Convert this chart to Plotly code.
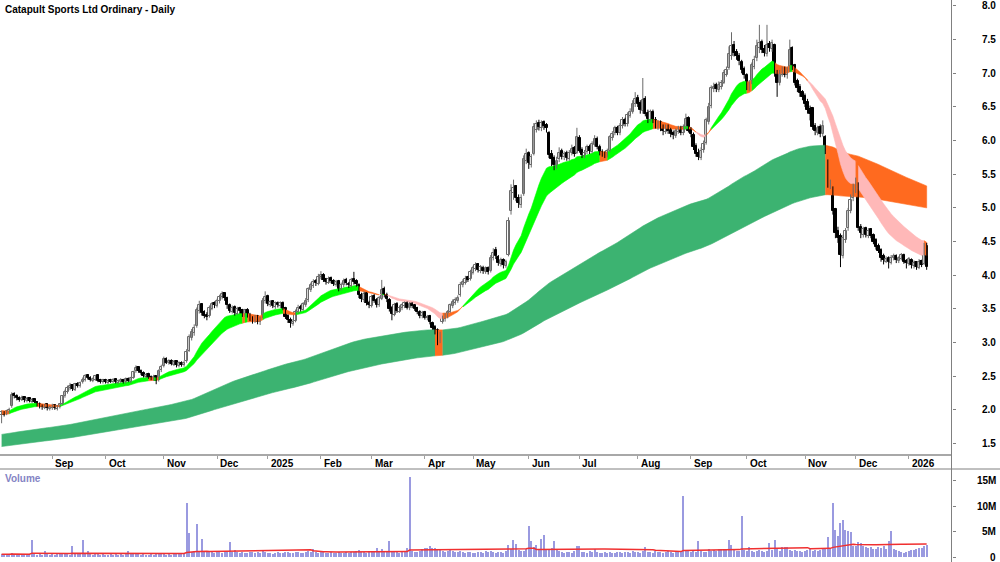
import pandas as pd
import plotly.graph_objects as go

TITLE = "Catapult Sports Ltd Ordinary - Daily"
START_DATE = "2024-08-05"
END_DATE = "2026-01-13"
HOLIDAYS = ["2024-12-25", "2024-12-26", "2025-01-01", "2025-01-27", "2025-04-18",
            "2025-04-21", "2025-04-25", "2025-06-09", "2025-12-25", "2025-12-26", "2026-01-01"]

OPEN = [
    1.92, 1.96, 1.94, 1.97, 2.05, 2.23, 2.21, 2.18, 2.15, 2.19,
    2.13, 2.17, 2.12, 2.16, 2.12, 2.09, 2.06, 2.03, 2.08, 2.01,
    2.03, 2.07, 2.01, 2.04, 2.09, 2.21, 2.27, 2.32, 2.37, 2.30,
    2.39, 2.35, 2.41, 2.44, 2.51, 2.48, 2.43, 2.45, 2.51, 2.44,
    2.41, 2.45, 2.40, 2.44, 2.42, 2.46, 2.40, 2.42, 2.45, 2.41,
    2.46, 2.42, 2.48, 2.57, 2.63, 2.58, 2.55, 2.49, 2.53, 2.49,
    2.45, 2.50, 2.44, 2.59, 2.65, 2.76, 2.69, 2.73, 2.67, 2.72,
    2.65, 2.70, 2.66, 2.72, 2.88, 3.06, 3.14, 3.25, 3.47, 3.57,
    3.45, 3.41, 3.39, 3.50, 3.58, 3.54, 3.61, 3.67, 3.74, 3.66,
    3.56, 3.46, 3.53, 3.43, 3.51, 3.48, 3.41, 3.49, 3.41, 3.37,
    3.32, 3.39, 3.30, 3.38, 3.61, 3.69, 3.56, 3.61, 3.53, 3.59,
    3.54, 3.59, 3.51, 3.39, 3.34, 3.28, 3.32, 3.45, 3.53, 3.49,
    3.56, 3.63, 3.78, 3.84, 3.91, 3.87, 3.97, 4.01, 3.94, 3.89,
    3.96, 3.92, 3.86, 3.91, 3.79, 3.85, 3.93, 3.87, 3.84, 3.94,
    3.91, 3.86, 3.71, 3.63, 3.73, 3.59, 3.54, 3.69, 3.63, 3.55,
    3.65, 3.80, 3.71, 3.63, 3.51, 3.41, 3.57, 3.46, 3.51, 3.54,
    3.59, 3.51, 3.58, 3.55, 3.51, 3.46, 3.39, 3.45, 3.36, 3.39,
    3.29, 3.23, 3.19, 3.01, 3.30, 3.35, 3.39, 3.46, 3.54, 3.59,
    3.62, 3.70, 3.85, 3.89, 3.97, 3.94, 4.04, 4.09, 4.16, 4.06,
    4.11, 4.05, 4.11, 4.06, 4.26, 4.37, 4.27, 4.17, 4.23, 4.14,
    4.30, 4.95, 5.22, 5.32, 5.14, 5.04, 5.20, 5.70, 5.82, 5.64,
    5.80, 6.16, 6.26, 6.18, 6.27, 6.23, 6.12, 5.80, 5.74, 5.62,
    5.72, 5.84, 5.75, 5.82, 5.73, 5.81, 5.89, 5.82, 6.04, 5.86,
    5.77, 5.83, 5.91, 5.83, 5.94, 6.03, 5.91, 5.83, 5.81, 5.77,
    5.85, 6.04, 6.11, 6.19, 6.11, 6.21, 6.31, 6.24, 6.37, 6.43,
    6.54, 6.63, 6.56, 6.44, 6.62, 6.41, 6.31, 6.43, 6.31, 6.21,
    6.27, 6.19, 6.13, 6.21, 6.16, 6.11, 6.07, 6.13, 6.19, 6.11,
    6.19, 6.33, 6.16, 6.08, 5.92, 5.82, 5.74, 5.86, 5.96, 6.28,
    6.52, 6.76, 6.82, 6.75, 6.80, 6.86, 6.98, 7.08, 7.25, 7.42,
    7.31, 7.26, 7.17, 7.06, 6.97, 6.80, 6.88, 7.10, 7.22, 7.38,
    7.46, 7.36, 7.28, 7.44, 7.36, 7.42, 7.02, 6.86, 6.98, 7.06,
    6.97, 7.06, 7.38, 7.12, 6.88, 6.80, 6.72, 6.66, 6.58, 6.47,
    6.48, 6.22, 6.12, 6.20, 6.10, 6.05, 5.70, 5.32, 5.30, 4.98,
    4.65, 4.58, 4.28, 4.52, 4.70, 4.96, 5.14, 5.28, 5.34, 4.72,
    4.60, 4.70, 4.58, 4.68, 4.60, 4.52, 4.44, 4.38, 4.28, 4.20,
    4.25, 4.18, 4.25, 4.29, 4.21, 4.24, 4.30, 4.21, 4.17, 4.23,
    4.14, 4.19, 4.11, 4.21, 4.16, 4.44,
]
HIGH = [
    1.99, 1.98, 2.00, 2.03, 2.26, 2.26, 2.23, 2.20, 2.21, 2.20,
    2.19, 2.18, 2.17, 2.17, 2.13, 2.11, 2.08, 2.09, 2.09, 2.06,
    2.09, 2.08, 2.07, 2.10, 2.22, 2.30, 2.36, 2.40, 2.38, 2.40,
    2.41, 2.42, 2.48, 2.53, 2.53, 2.50, 2.48, 2.52, 2.52, 2.46,
    2.46, 2.46, 2.45, 2.46, 2.47, 2.47, 2.45, 2.47, 2.46, 2.48,
    2.48, 2.49, 2.58, 2.66, 2.64, 2.60, 2.57, 2.54, 2.55, 2.51,
    2.52, 2.51, 2.60, 2.67, 2.79, 2.78, 2.75, 2.75, 2.74, 2.74,
    2.72, 2.72, 2.73, 2.90, 3.12, 3.20, 3.27, 3.52, 3.62, 3.58,
    3.48, 3.45, 3.55, 3.60, 3.61, 3.65, 3.71, 3.76, 3.75, 3.68,
    3.58, 3.55, 3.55, 3.53, 3.53, 3.50, 3.50, 3.51, 3.44, 3.39,
    3.41, 3.41, 3.38, 3.66, 3.76, 3.71, 3.63, 3.63, 3.61, 3.61,
    3.61, 3.61, 3.53, 3.42, 3.37, 3.35, 3.49, 3.56, 3.56, 3.60,
    3.66, 3.82, 3.89, 3.94, 3.94, 4.02, 4.06, 4.03, 3.96, 3.98,
    3.98, 3.94, 3.93, 3.93, 3.89, 3.95, 3.96, 3.90, 3.96, 4.05,
    3.94, 3.88, 3.74, 3.76, 3.75, 3.62, 3.71, 3.72, 3.66, 3.69,
    3.93, 3.83, 3.74, 3.66, 3.54, 3.59, 3.60, 3.55, 3.58, 3.61,
    3.61, 3.60, 3.60, 3.57, 3.53, 3.48, 3.47, 3.47, 3.41, 3.41,
    3.31, 3.26, 3.21, 3.16, 3.40, 3.44, 3.48, 3.58, 3.64, 3.67,
    3.70, 3.90, 3.94, 3.99, 3.99, 4.08, 4.14, 4.19, 4.18, 4.15,
    4.14, 4.13, 4.13, 4.30, 4.40, 4.42, 4.30, 4.26, 4.25, 4.23,
    4.86, 5.35, 5.42, 5.34, 5.20, 5.20, 5.78, 5.88, 5.84, 5.80,
    6.26, 6.30, 6.31, 6.30, 6.30, 6.26, 6.14, 5.86, 5.78, 5.76,
    5.90, 5.88, 5.84, 5.85, 5.86, 5.94, 5.92, 6.19, 6.08, 5.90,
    5.86, 5.94, 5.94, 5.99, 6.08, 6.06, 5.94, 5.87, 5.84, 5.88,
    6.08, 6.14, 6.22, 6.22, 6.26, 6.35, 6.34, 6.42, 6.48, 6.60,
    6.72, 6.68, 6.60, 6.93, 6.66, 6.46, 6.46, 6.46, 6.35, 6.30,
    6.30, 6.24, 6.24, 6.24, 6.19, 6.15, 6.18, 6.22, 6.22, 6.24,
    6.40, 6.36, 6.20, 6.12, 5.96, 5.88, 5.90, 6.00, 6.34, 6.56,
    6.82, 6.86, 6.86, 6.88, 6.90, 7.05, 7.10, 7.40, 7.61, 7.48,
    7.36, 7.30, 7.20, 7.10, 7.00, 6.90, 7.16, 7.26, 7.50, 7.72,
    7.50, 7.42, 7.72, 7.48, 7.50, 7.44, 7.05, 7.05, 7.10, 7.10,
    7.10, 7.50, 7.40, 7.14, 6.92, 6.84, 6.75, 6.70, 6.62, 6.52,
    6.50, 6.26, 6.22, 6.24, 6.30, 6.08, 5.72, 5.42, 5.32, 5.00,
    4.72, 4.62, 4.60, 4.70, 5.00, 5.20, 5.36, 5.45, 5.38, 4.76,
    4.72, 4.72, 4.70, 4.70, 4.62, 4.55, 4.47, 4.40, 4.32, 4.28,
    4.28, 4.30, 4.32, 4.31, 4.28, 4.33, 4.32, 4.24, 4.27, 4.25,
    4.22, 4.21, 4.24, 4.23, 4.48, 4.48,
]
LOW = [
    1.80, 1.90, 1.92, 1.95, 2.03, 2.17, 2.14, 2.12, 2.13, 2.11,
    2.11, 2.11, 2.10, 2.10, 2.05, 2.02, 2.00, 2.01, 1.99, 1.99,
    2.00, 2.00, 1.99, 2.02, 2.07, 2.18, 2.24, 2.29, 2.28, 2.28,
    2.33, 2.33, 2.39, 2.42, 2.45, 2.42, 2.41, 2.43, 2.41, 2.39,
    2.39, 2.39, 2.38, 2.40, 2.40, 2.39, 2.38, 2.40, 2.39, 2.39,
    2.41, 2.40, 2.46, 2.55, 2.55, 2.52, 2.48, 2.47, 2.46, 2.44,
    2.43, 2.38, 2.42, 2.56, 2.63, 2.68, 2.67, 2.66, 2.65, 2.63,
    2.63, 2.64, 2.64, 2.70, 2.86, 3.03, 3.10, 3.22, 3.43, 3.40,
    3.36, 3.33, 3.37, 3.48, 3.51, 3.52, 3.58, 3.64, 3.62, 3.50,
    3.44, 3.43, 3.40, 3.41, 3.43, 3.38, 3.38, 3.37, 3.32, 3.28,
    3.29, 3.27, 3.26, 3.36, 3.58, 3.54, 3.53, 3.51, 3.50, 3.52,
    3.51, 3.48, 3.35, 3.29, 3.22, 3.25, 3.30, 3.43, 3.46, 3.47,
    3.53, 3.60, 3.75, 3.81, 3.84, 3.85, 3.94, 3.90, 3.86, 3.87,
    3.88, 3.84, 3.83, 3.76, 3.77, 3.82, 3.85, 3.81, 3.82, 3.86,
    3.83, 3.66, 3.60, 3.60, 3.55, 3.51, 3.52, 3.59, 3.52, 3.53,
    3.63, 3.67, 3.60, 3.46, 3.33, 3.39, 3.44, 3.44, 3.48, 3.51,
    3.49, 3.48, 3.51, 3.47, 3.42, 3.36, 3.36, 3.34, 3.33, 3.27,
    3.19, 3.12, 2.96, 2.99, 3.28, 3.31, 3.36, 3.44, 3.51, 3.56,
    3.59, 3.68, 3.82, 3.86, 3.90, 3.92, 4.01, 4.06, 4.04, 4.03,
    4.02, 4.02, 4.01, 4.04, 4.22, 4.24, 4.14, 4.13, 4.10, 4.11,
    4.28, 4.90, 5.12, 5.10, 5.00, 5.00, 5.18, 5.65, 5.58, 5.60,
    5.78, 6.12, 6.15, 6.14, 6.16, 6.12, 5.74, 5.62, 5.56, 5.58,
    5.68, 5.72, 5.71, 5.70, 5.70, 5.78, 5.76, 5.80, 5.82, 5.74,
    5.74, 5.80, 5.80, 5.81, 5.91, 5.87, 5.78, 5.76, 5.74, 5.75,
    5.83, 6.00, 6.08, 6.08, 6.08, 6.18, 6.21, 6.21, 6.34, 6.40,
    6.50, 6.50, 6.40, 6.40, 6.36, 6.26, 6.28, 6.26, 6.18, 6.16,
    6.14, 6.08, 6.10, 6.10, 6.05, 6.02, 6.04, 6.10, 6.08, 6.08,
    6.16, 6.12, 6.05, 5.86, 5.76, 5.71, 5.71, 5.82, 5.94, 6.24,
    6.48, 6.72, 6.72, 6.72, 6.76, 6.84, 6.95, 7.05, 7.20, 7.25,
    7.20, 7.12, 7.00, 6.92, 6.75, 6.74, 6.84, 7.06, 7.18, 7.30,
    7.30, 7.25, 7.25, 7.32, 7.32, 6.95, 6.65, 6.82, 6.95, 6.94,
    6.92, 7.02, 7.05, 6.82, 6.72, 6.65, 6.60, 6.50, 6.40, 6.30,
    6.16, 6.08, 6.08, 6.05, 6.06, 5.80, 5.30, 5.28, 4.90, 4.55,
    4.48, 4.12, 4.25, 4.48, 4.66, 4.92, 5.10, 5.22, 4.66, 4.55,
    4.56, 4.56, 4.55, 4.55, 4.46, 4.38, 4.33, 4.20, 4.16, 4.18,
    4.10, 4.16, 4.22, 4.18, 4.18, 4.22, 4.17, 4.10, 4.14, 4.10,
    4.10, 4.08, 4.09, 4.12, 4.15, 4.08,
]
CLOSE = [
    1.97, 1.93, 1.98, 2.00, 2.22, 2.20, 2.17, 2.15, 2.18, 2.14,
    2.16, 2.13, 2.15, 2.12, 2.08, 2.05, 2.04, 2.07, 2.02, 2.04,
    2.06, 2.02, 2.05, 2.08, 2.20, 2.27, 2.33, 2.36, 2.31, 2.38,
    2.36, 2.40, 2.45, 2.50, 2.47, 2.44, 2.46, 2.50, 2.43, 2.42,
    2.44, 2.41, 2.43, 2.42, 2.45, 2.41, 2.43, 2.44, 2.42, 2.46,
    2.43, 2.47, 2.56, 2.62, 2.57, 2.54, 2.50, 2.52, 2.48, 2.46,
    2.49, 2.43, 2.58, 2.64, 2.75, 2.70, 2.72, 2.68, 2.71, 2.66,
    2.69, 2.67, 2.70, 2.86, 3.08, 3.15, 3.22, 3.48, 3.56, 3.44,
    3.40, 3.38, 3.52, 3.57, 3.55, 3.62, 3.68, 3.72, 3.66, 3.55,
    3.47, 3.52, 3.44, 3.50, 3.47, 3.42, 3.48, 3.40, 3.36, 3.33,
    3.38, 3.31, 3.36, 3.62, 3.68, 3.57, 3.60, 3.54, 3.58, 3.55,
    3.58, 3.50, 3.38, 3.33, 3.29, 3.31, 3.46, 3.52, 3.50, 3.57,
    3.62, 3.79, 3.85, 3.90, 3.88, 3.98, 4.00, 3.93, 3.90, 3.95,
    3.91, 3.87, 3.90, 3.80, 3.86, 3.92, 3.88, 3.85, 3.93, 3.90,
    3.87, 3.70, 3.64, 3.72, 3.58, 3.55, 3.68, 3.62, 3.56, 3.66,
    3.78, 3.70, 3.64, 3.50, 3.42, 3.56, 3.47, 3.52, 3.55, 3.58,
    3.52, 3.57, 3.54, 3.50, 3.45, 3.40, 3.44, 3.37, 3.38, 3.30,
    3.22, 3.17, 3.02, 3.12, 3.36, 3.40, 3.45, 3.55, 3.60, 3.63,
    3.66, 3.86, 3.90, 3.95, 3.93, 4.05, 4.10, 4.15, 4.07, 4.12,
    4.06, 4.10, 4.05, 4.25, 4.33, 4.28, 4.18, 4.22, 4.15, 4.20,
    4.80, 5.25, 5.30, 5.15, 5.08, 5.15, 5.72, 5.80, 5.66, 5.75,
    6.20, 6.24, 6.20, 6.26, 6.22, 6.18, 5.78, 5.72, 5.64, 5.70,
    5.82, 5.76, 5.80, 5.74, 5.82, 5.88, 5.80, 6.05, 5.85, 5.78,
    5.82, 5.90, 5.84, 5.95, 6.02, 5.90, 5.82, 5.80, 5.78, 5.84,
    6.05, 6.10, 6.18, 6.12, 6.22, 6.30, 6.25, 6.38, 6.42, 6.55,
    6.62, 6.55, 6.45, 6.60, 6.40, 6.32, 6.42, 6.30, 6.22, 6.26,
    6.18, 6.14, 6.20, 6.15, 6.10, 6.08, 6.14, 6.18, 6.12, 6.20,
    6.32, 6.15, 6.10, 5.90, 5.80, 5.75, 5.85, 5.95, 6.30, 6.50,
    6.78, 6.80, 6.76, 6.82, 6.85, 7.00, 7.05, 7.28, 7.40, 7.30,
    7.25, 7.18, 7.05, 6.98, 6.82, 6.85, 7.12, 7.20, 7.40, 7.45,
    7.35, 7.30, 7.42, 7.38, 7.45, 7.00, 6.85, 7.00, 7.05, 6.98,
    7.05, 7.35, 7.10, 6.85, 6.78, 6.70, 6.65, 6.55, 6.45, 6.40,
    6.20, 6.15, 6.18, 6.10, 6.22, 5.85, 5.35, 5.38, 4.95, 4.62,
    4.55, 4.30, 4.55, 4.65, 4.95, 5.12, 5.30, 5.38, 4.70, 4.62,
    4.68, 4.60, 4.66, 4.58, 4.50, 4.42, 4.36, 4.25, 4.22, 4.24,
    4.20, 4.26, 4.28, 4.22, 4.25, 4.30, 4.20, 4.18, 4.24, 4.15,
    4.18, 4.12, 4.20, 4.15, 4.45, 4.12,
]
VOLUME_M = [
    0.6, 0.5, 0.7, 0.6, 0.9, 0.5, 0.6, 0.4, 0.5, 0.6,
    0.5, 0.7, 3.4, 0.6, 0.5, 0.6, 0.4, 1.3, 0.6, 0.5,
    0.7, 0.5, 0.6, 0.8, 0.9, 0.7, 0.6, 0.5, 2.3, 0.7,
    0.6, 0.8, 3.3, 0.7, 1.3, 0.6, 0.5, 0.6, 0.7, 0.5,
    0.6, 0.5, 0.4, 0.6, 0.5, 0.7, 0.5, 0.6, 0.5, 0.6,
    1.3, 0.6, 0.8, 0.9, 0.6, 0.5, 0.6, 0.5, 0.4, 0.6,
    0.5, 0.6, 0.7, 0.6, 0.8, 0.5, 0.6, 0.5, 0.7, 0.8,
    0.6, 0.9, 0.8, 10.6, 4.7, 1.0, 1.2, 6.5, 1.1, 3.5,
    1.3, 1.2, 1.0, 1.1, 0.9, 1.2, 1.0, 0.9, 1.1, 1.2,
    2.9, 1.1, 1.5, 1.0, 0.9, 1.0, 0.8, 0.9, 1.1, 1.0,
    0.9, 1.0, 0.8, 1.2, 1.0, 0.9, 0.8, 0.7, 0.9, 1.0,
    0.8, 0.9, 1.1, 1.0, 0.9, 0.8, 1.0, 1.1, 0.9, 0.8,
    1.0, 1.2, 1.1, 1.6, 1.0, 0.9, 1.1, 1.0, 0.8, 0.9,
    1.0, 0.9, 0.8, 1.0, 0.9, 0.8, 1.0, 0.9, 1.1, 1.0,
    1.2, 1.5, 1.0, 1.1, 0.9, 1.0, 1.2, 1.1, 1.9, 1.3,
    1.7, 1.2, 1.1, 3.1, 1.0, 1.3, 1.0, 0.9, 1.1, 1.2,
    1.9, 15.7, 1.2, 1.0, 1.1, 1.3, 1.7, 1.9, 1.8, 2.3,
    1.8, 1.9, 1.7, 1.4, 1.2, 1.1, 1.3, 1.7, 1.2, 1.0,
    1.1, 1.2, 1.0, 0.9, 1.1, 1.0, 0.8, 0.9, 1.1, 1.0,
    0.9, 1.2, 1.0, 1.3, 1.1, 0.9, 1.0, 1.1, 0.9, 1.2,
    2.4, 1.6, 3.3, 2.6, 1.5, 1.2, 1.3, 1.6, 6.1, 3.1,
    2.0, 2.5, 1.5, 3.5, 4.4, 1.6, 1.4, 1.8, 3.1, 1.5,
    1.2, 1.0, 0.9, 1.1, 1.0, 0.8, 1.2, 2.3, 2.3, 1.1,
    1.0, 0.9, 1.2, 1.1, 1.7, 1.0, 0.9, 0.8, 1.0, 0.9,
    1.0, 0.8, 0.9, 1.1, 1.0, 0.9, 1.1, 1.0, 0.8, 1.2,
    1.1, 1.0, 0.9, 1.2, 2.0, 1.1, 1.0, 0.9, 1.2, 1.0,
    1.1, 0.9, 1.0, 1.2, 1.1, 0.9, 1.0, 1.3, 1.1, 12.0,
    1.4, 1.2, 1.0, 1.3, 1.1, 3.1, 1.2, 1.0, 1.1, 1.7,
    1.2, 1.5, 1.3, 1.6, 1.7, 1.4, 1.5, 3.3, 2.5, 1.6,
    1.3, 1.2, 8.0, 1.4, 1.2, 2.0, 1.3, 1.1, 1.2, 1.4,
    1.3, 1.1, 1.2, 2.8, 1.4, 3.4, 1.6, 1.3, 2.1, 2.1,
    2.0, 1.5, 1.2, 1.4, 1.3, 1.2, 1.1, 1.3, 1.4, 1.8,
    1.2, 1.4, 1.3, 1.5, 1.6, 1.8, 3.9, 1.9, 10.7, 5.3,
    4.2, 6.8, 7.4, 5.3, 5.2, 5.0, 2.2, 2.2, 3.0, 2.8,
    2.3, 2.0, 1.8, 2.1, 1.7, 1.6, 2.0, 1.9, 2.2, 1.7,
    3.1, 5.2, 1.6, 1.4, 1.2, 1.0, 0.9, 1.1, 1.3, 1.4,
    1.5, 1.6, 1.8, 1.9, 2.2, 2.4,
]

SHORT_FAST_SPAN, SHORT_SLOW_SPAN = 18, 30
LONG_FAST_SPAN, LONG_SLOW_SPAN = 150, 250
SHORT_FAST_START, SHORT_SLOW_START = 1.99, 1.93
LONG_FAST_START, LONG_SLOW_START = 1.63, 1.45
VOLUME_MA_WINDOW = 50

PRICE_TICKS = [1.5, 2.0, 2.5, 3.0, 3.5, 4.0, 4.5, 5.0, 5.5, 6.0, 6.5, 7.0, 7.5, 8.0]
VOLUME_TICKS = [0, 5, 10, 15]
VOLUME_TICK_LABELS = ["0", "5M", "10M", "15M"]
MONTH_NAMES = ["Jan", "Feb", "Mar", "Apr", "May", "Jun", "Jul", "Aug", "Sep", "Oct", "Nov", "Dec"]

GREEN_LONG = "#3CB371"
GREEN_SHORT = "#00FF00"
ORANGE = "#FF6A1F"
PINK = "#FFB8B8"
UP_LINE = "#6A6A6A"
DOWN_LINE = "#000000"
FONT = "Liberation Sans, Arial, sans-serif"

# ---------------------------------------------------------------------------
dates = [d for d in pd.bdate_range(START_DATE, END_DATE) if d.strftime("%Y-%m-%d") not in HOLIDAYS]
n = len(CLOSE)
dates = dates[:n]
idx = list(range(n))


def ema(values, span, start):
    a = 2.0 / (span + 1)
    out, prev = [], start
    for v in values:
        prev = prev + a * (v - prev)
        out.append(prev)
    return out


def ribbon_colours(fast, slow, start, up, mixed, down):
    cols = []
    prev = start
    for f, s in zip(fast, slow):
        rising = f >= prev
        if f > s and rising:
            cols.append(up)
        elif f < s and not rising:
            cols.append(down)
        else:
            cols.append(mixed)
        prev = f
    return cols


def ribbon_traces(fast, slow, cols):
    traces = []
    a = 0
    while a < n:
        b = a
        while b + 1 < n and cols[b + 1] == cols[a]:
            b += 1
        end = min(b + 1, n - 1)
        xs = list(range(a, end + 1))
        up = [max(fast[i], slow[i]) for i in xs]
        lo = [min(fast[i], slow[i]) for i in xs]
        traces.append(go.Scatter(
            x=xs + xs[::-1], y=up + lo[::-1], fill="toself", fillcolor=cols[a],
            mode="lines", line=dict(width=0.6, color=cols[a]), hoverinfo="skip",
            showlegend=False, xaxis="x", yaxis="y"))
        a = b + 1
    return traces


sf = ema(CLOSE, SHORT_FAST_SPAN, SHORT_FAST_START)
ss = ema(CLOSE, SHORT_SLOW_SPAN, SHORT_SLOW_START)
lf = ema(CLOSE, LONG_FAST_SPAN, LONG_FAST_START)
ls = ema(CLOSE, LONG_SLOW_SPAN, LONG_SLOW_START)
vol_ma = pd.Series(VOLUME_M).rolling(VOLUME_MA_WINDOW, min_periods=1).mean().tolist()

fig = go.Figure()
for t in ribbon_traces(lf, ls, ribbon_colours(lf, ls, LONG_FAST_START, GREEN_LONG, ORANGE, ORANGE)):
    fig.add_trace(t)
for t in ribbon_traces(sf, ss, ribbon_colours(sf, ss, SHORT_FAST_START, GREEN_SHORT, ORANGE, PINK)):
    fig.add_trace(t)

# candles: wicks as line traces (up / down), bodies as bars based at the open
is_up = [c >= o for o, c in zip(OPEN, CLOSE)]
for want, colr in ((True, UP_LINE), (False, DOWN_LINE)):
    wx, wy = [], []
    for i in idx:
        if is_up[i] == want:
            wx += [i, i, None]
            wy += [LOW[i], HIGH[i], None]
    fig.add_trace(go.Scatter(x=wx, y=wy, mode="lines", line=dict(color=colr, width=1),
                             hoverinfo="skip", showlegend=False, xaxis="x", yaxis="y"))
body_h = [c - o if abs(c - o) > 0.004 else 0.008 for o, c in zip(OPEN, CLOSE)]
body_base = [o if abs(c - o) > 0.004 else o - 0.004 for o, c in zip(OPEN, CLOSE)]
body_col = ["#FFFFFF" if u else "#000000" for u in is_up]
body_line = [UP_LINE if u else DOWN_LINE for u in is_up]
fig.add_trace(go.Bar(x=idx, y=body_h, base=body_base, width=0.9,
                     marker=dict(color=body_col, line=dict(color=body_line, width=1)),
                     hoverinfo="skip", showlegend=False, xaxis="x", yaxis="y"))

fig.add_trace(go.Bar(x=idx, y=VOLUME_M, width=0.45, marker=dict(color="#9A9AE0", line=dict(width=0)),
                     showlegend=False, hoverinfo="skip", xaxis="x2", yaxis="y2"))
fig.add_trace(go.Scatter(x=idx, y=vol_ma, mode="lines", line=dict(color="#F03030", width=1.5),
                         showlegend=False, hoverinfo="skip", xaxis="x2", yaxis="y2"))

W, H = 1000, 562
AXIS_X = 951.5
PRICE_BOTTOM = 455
VOL_TOP = 469
x_dom = [0, AXIS_X / W]
x_range = [-0.63, 374.8]

month_idx, month_txt = [], []
for i in range(1, n):
    if dates[i].month != dates[i - 1].month:
        month_idx.append(i)
        month_txt.append(str(dates[i].year) if dates[i].month == 1 else MONTH_NAMES[dates[i].month - 1])

fig.update_layout(
    width=W, height=H, margin=dict(l=0, r=0, t=0, b=0),
    paper_bgcolor="white", plot_bgcolor="white", showlegend=False,
    font=dict(family=FONT, size=10, color="black"),
    barmode="overlay", bargap=0,
    xaxis=dict(domain=x_dom, range=x_range, anchor="y", tickvals=month_idx, showticklabels=False,
               ticks="outside", ticklen=3, tickcolor="#A0A0A0", showgrid=False, zeroline=False,
               showline=False, fixedrange=True),
    yaxis=dict(domain=[1 - PRICE_BOTTOM / H, 1], range=[1.3284, 8.089], anchor="x", side="right",
               tickvals=PRICE_TICKS, showticklabels=False, ticks="outside", ticklen=3, tickcolor="#808080",
               showgrid=False, zeroline=False, showline=False),
    xaxis2=dict(domain=x_dom, range=x_range, anchor="y2", showticklabels=False, ticks="",
                showgrid=False, zeroline=False, showline=False),
    yaxis2=dict(domain=[0, 1 - VOL_TOP / H], range=[-0.92, 17.29], anchor="x2", side="right",
                tickvals=VOLUME_TICKS, showticklabels=False, ticks="outside", ticklen=3,
                tickcolor="#808080", showgrid=False, zeroline=False, showline=False),
)

shapes = [
    dict(type="line", xref="paper", yref="paper", x0=0, x1=AXIS_X / W,
         y0=1 - PRICE_BOTTOM / H, y1=1 - PRICE_BOTTOM / H, line=dict(color="#A8A8A8", width=2)),
    dict(type="line", xref="paper", yref="paper", x0=0, x1=1,
         y0=1 - VOL_TOP / H, y1=1 - VOL_TOP / H, line=dict(color="#808080", width=1)),
    dict(type="line", xref="paper", yref="paper", x0=AXIS_X / W, x1=AXIS_X / W,
         y0=0, y1=1, line=dict(color="#808080", width=1)),
]
fig.update_layout(shapes=shapes)

ann = [dict(text="<b>" + TITLE + "</b>", xref="paper", yref="paper", x=3 / W, y=1 - 9 / H,
            xanchor="left", yanchor="middle", showarrow=False, font=dict(size=10, color="black")),
       dict(text="<b>Volume</b>", xref="paper", yref="paper", x=3 / W, y=1 - 478 / H,
            xanchor="left", yanchor="middle", showarrow=False, font=dict(size=10, color="#8484C4"))]
for m, t in zip(month_idx, month_txt):
    ann.append(dict(text="<b>" + t + "</b>", xref="x", yref="paper", x=m, y=1 - 463 / H,
                    xanchor="left", yanchor="middle", xshift=1, showarrow=False,
                    font=dict(size=10, color="black")))
for v in PRICE_TICKS:
    ann.append(dict(text="<b>%.1f</b>" % v, xref="paper", yref="y", x=998 / W, y=v,
                    xanchor="right", yanchor="middle", showarrow=False, font=dict(size=10, color="black")))
for v, t in zip(VOLUME_TICKS, VOLUME_TICK_LABELS):
    ann.append(dict(text="<b>" + t + "</b>", xref="paper", yref="y2", x=998 / W, y=v,
                    xanchor="right", yanchor="middle", showarrow=False, font=dict(size=10, color="black")))
fig.update_layout(annotations=ann)

fig.write_html("out.html")
